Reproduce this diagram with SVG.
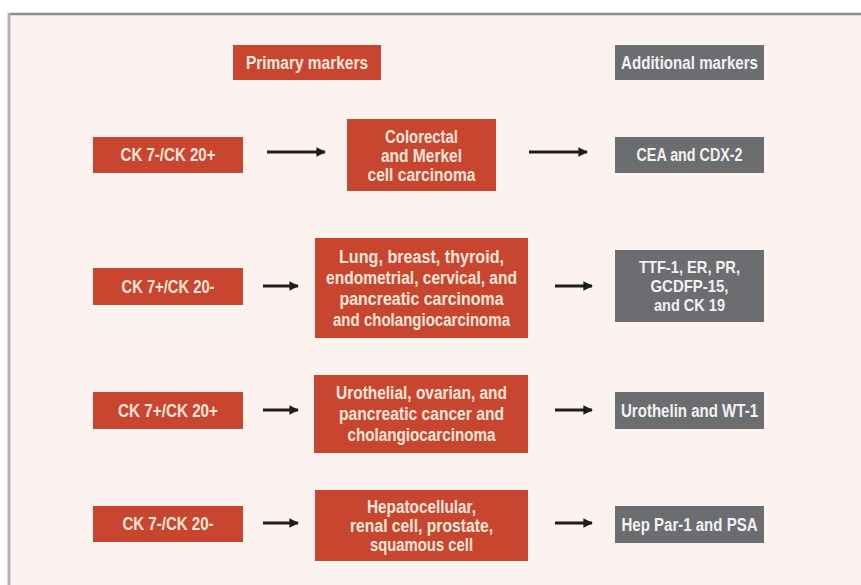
<svg xmlns="http://www.w3.org/2000/svg" width="861" height="585" viewBox="0 0 861 585">
<defs>
<marker id="ah" viewBox="0 0 10 10" refX="9" refY="5" markerWidth="3.2" markerHeight="3.2" orient="auto" markerUnits="strokeWidth">
<path d="M0,0 L10,5 L0,10 z" fill="#1e1e1e"/>
</marker>
</defs>
<style>
.r{fill:#c8462f}
.g{fill:#6b6d70}
.t{font-family:'Liberation Sans',Arial,sans-serif;font-weight:bold;font-size:18px;text-anchor:middle;dominant-baseline:central}
.s{font-size:17px}
.tr{fill:#fbe6da}
.tg{fill:#f2f2f2}
.a{stroke:#1e1e1e;stroke-width:3;fill:none;marker-end:url(#ah)}
</style>
<rect x="0" y="0" width="861" height="585" fill="#ffffff"/>
<rect x="9" y="14" width="852" height="571" fill="#fcf2ef"/>
<line x1="9" y1="14" x2="861" y2="14" stroke="#8e8e8e" stroke-width="2.5"/>
<line x1="9" y1="13" x2="9" y2="585" stroke="#b3b3b3" stroke-width="3"/>

<g id="primary-header"><rect class="r" x="233" y="45" width="148" height="35"/><text class="t tr" x="307" y="63" textLength="122" lengthAdjust="spacingAndGlyphs">Primary markers</text></g>
<g id="additional-header"><rect class="g" x="615" y="45" width="149" height="35"/><text class="t tg" x="689.5" y="63" textLength="137" lengthAdjust="spacingAndGlyphs">Additional markers</text></g>

<g id="ck1"><rect class="r" x="93" y="137" width="150" height="36"/><text class="t tr" x="168" y="155" textLength="95" lengthAdjust="spacingAndGlyphs">CK 7-/CK 20+</text></g>
<g id="dx1"><rect class="r" x="347" y="119" width="149" height="72"/><text class="t tr" x="421.5" y="137" textLength="73" lengthAdjust="spacingAndGlyphs">Colorectal</text><text class="t tr" x="421.5" y="156" textLength="81" lengthAdjust="spacingAndGlyphs">and Merkel</text><text class="t tr" x="421.5" y="175" textLength="108" lengthAdjust="spacingAndGlyphs">cell carcinoma</text></g>
<g id="add1"><rect class="g" x="615" y="137" width="149" height="36"/><text class="t tg" x="689.5" y="155" textLength="106" lengthAdjust="spacingAndGlyphs">CEA and CDX-2</text></g>

<g id="ck2"><rect class="r" x="93" y="268" width="150" height="37"/><text class="t tr" x="168" y="286.5" textLength="93" lengthAdjust="spacingAndGlyphs">CK 7+/CK 20-</text></g>
<g id="dx2"><rect class="r" x="315" y="238" width="213" height="100"/><text class="t tr" x="421.5" y="257" textLength="165" lengthAdjust="spacingAndGlyphs">Lung, breast, thyroid,</text><text class="t tr" x="421.5" y="278" textLength="191" lengthAdjust="spacingAndGlyphs">endometrial, cervical, and</text><text class="t tr" x="421.5" y="299" textLength="164" lengthAdjust="spacingAndGlyphs">pancreatic carcinoma</text><text class="t tr" x="421.5" y="320" textLength="177" lengthAdjust="spacingAndGlyphs">and cholangiocarcinoma</text></g>
<g id="add2"><rect class="g" x="615" y="250" width="149" height="72"/><text class="t s tg" x="689.5" y="267" textLength="101" lengthAdjust="spacingAndGlyphs">TTF-1, ER, PR,</text><text class="t s tg" x="689.5" y="286" textLength="78" lengthAdjust="spacingAndGlyphs">GCDFP-15,</text><text class="t s tg" x="689.5" y="305" textLength="71" lengthAdjust="spacingAndGlyphs">and CK 19</text></g>

<g id="ck3"><rect class="r" x="93" y="392" width="150" height="37"/><text class="t tr" x="168" y="410.5" textLength="100" lengthAdjust="spacingAndGlyphs">CK 7+/CK 20+</text></g>
<g id="dx3"><rect class="r" x="314" y="375" width="214" height="78"/><text class="t tr" x="421.5" y="393" textLength="171" lengthAdjust="spacingAndGlyphs">Urothelial, ovarian, and</text><text class="t tr" x="421.5" y="414" textLength="165" lengthAdjust="spacingAndGlyphs">pancreatic cancer and</text><text class="t tr" x="421.5" y="435" textLength="148" lengthAdjust="spacingAndGlyphs">cholangiocarcinoma</text></g>
<g id="add3"><rect class="g" x="615" y="392" width="149" height="37"/><text class="t tg" x="689.5" y="410.5" textLength="137" lengthAdjust="spacingAndGlyphs">Urothelin and WT-1</text></g>

<g id="ck4"><rect class="r" x="93" y="506" width="150" height="36"/><text class="t tr" x="168" y="524" textLength="91" lengthAdjust="spacingAndGlyphs">CK 7-/CK 20-</text></g>
<g id="dx4"><rect class="r" x="315" y="490" width="213" height="71"/><text class="t tr" x="421.5" y="507" textLength="109" lengthAdjust="spacingAndGlyphs">Hepatocellular,</text><text class="t tr" x="421.5" y="526" textLength="143" lengthAdjust="spacingAndGlyphs">renal cell, prostate,</text><text class="t tr" x="421.5" y="545" textLength="103" lengthAdjust="spacingAndGlyphs">squamous cell</text></g>
<g id="add4"><rect class="g" x="615" y="506" width="149" height="37"/><text class="t tg" x="689.5" y="524.5" textLength="136" lengthAdjust="spacingAndGlyphs">Hep Par-1 and PSA</text></g>

<g id="connectors">
<line class="a" x1="267" y1="152" x2="325" y2="152"/>
<line class="a" x1="529" y1="152" x2="587" y2="152"/>
<line class="a" x1="263" y1="286" x2="298" y2="286"/>
<line class="a" x1="555" y1="286" x2="592" y2="286"/>
<line class="a" x1="263" y1="410" x2="298" y2="410"/>
<line class="a" x1="555" y1="410" x2="592" y2="410"/>
<line class="a" x1="263" y1="523" x2="298" y2="523"/>
<line class="a" x1="555" y1="523" x2="592" y2="523"/>
</g>
</svg>
